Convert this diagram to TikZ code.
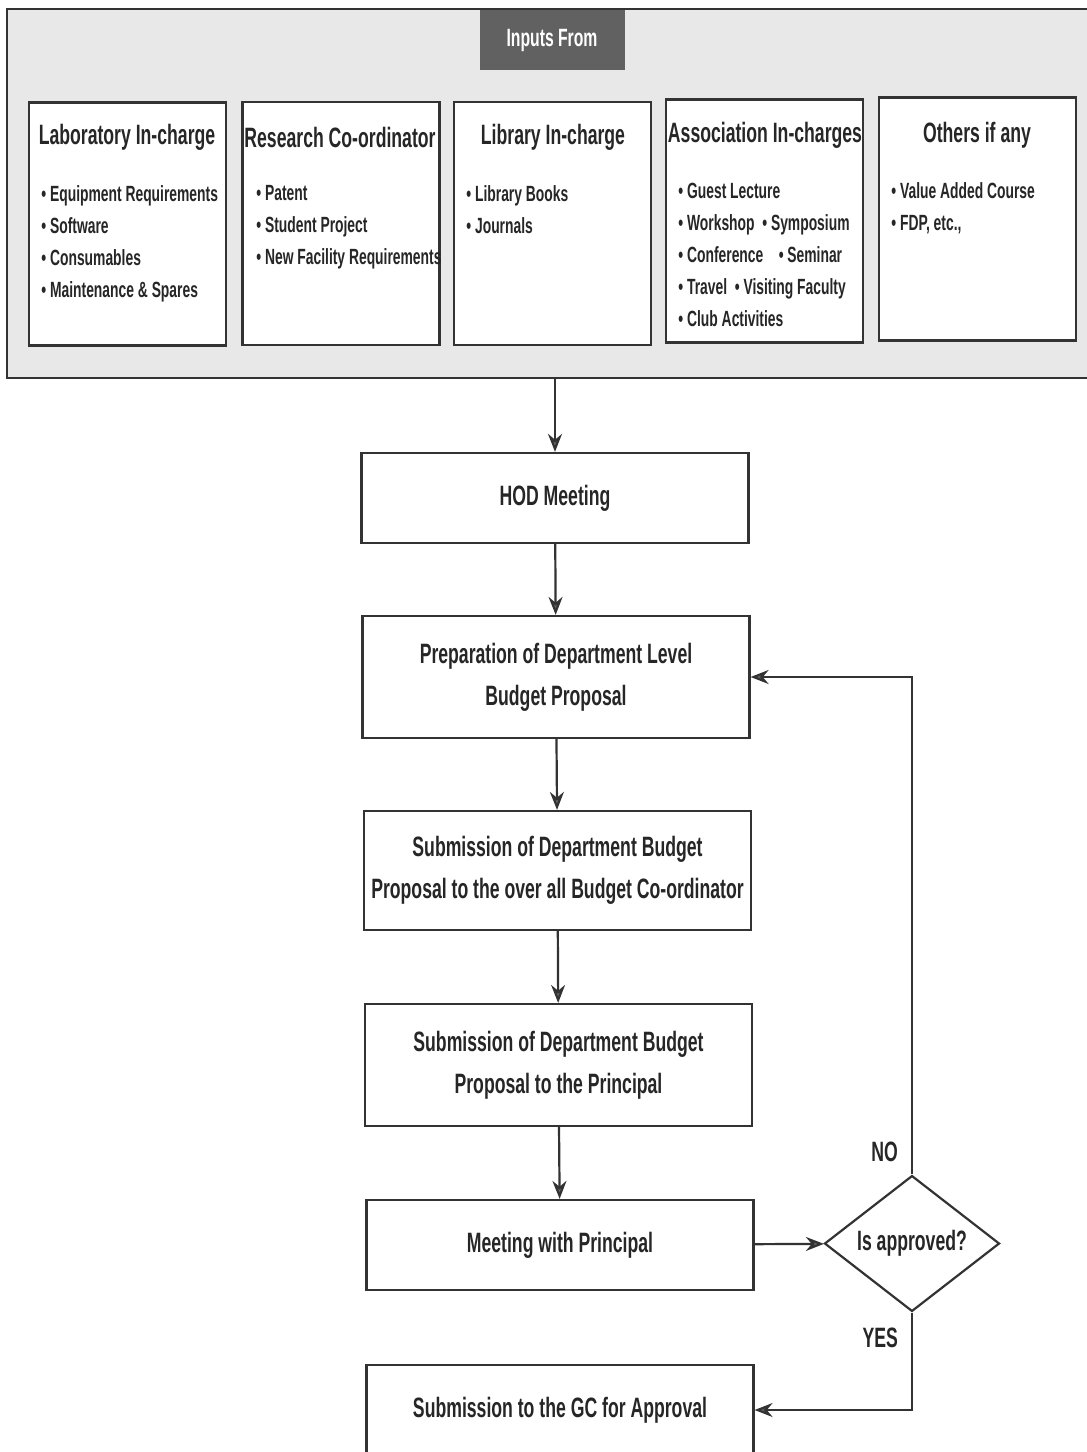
\documentclass[tikz,border=0pt]{standalone}
\usepackage{fontspec}
\newfontfamily\narrowsans{Liberation Sans}[FakeStretch=0.63]
\usetikzlibrary{arrows.meta,shapes.geometric}

\begin{document}
\begin{tikzpicture}[x=0.5pt,y=-0.5pt,font=\narrowsans\bfseries]
\tikzset{
  rule/.style={draw=black!80,line width=1.1pt},
  arr/.style={rule,-{Stealth[length=9pt,width=7pt,fill=black!60]}},
  source/.style={rule,fill=white,minimum width=98.5pt,minimum height=121.5pt,inner sep=0pt},
  srctitle/.style={font=\narrowsans\bfseries\fontsize{14}{16}\selectfont,text=black!85},
  srcitems/.style={anchor=north west,align=left,inner sep=0pt,
    font=\narrowsans\bfseries\fontsize{11}{16}\selectfont,text=black!85},
  stage/.style={rule,fill=white,minimum width=193.5pt,align=center,inner sep=0pt,
    font=\narrowsans\bfseries\fontsize{14}{21}\selectfont,text=black!85},
  check/.style={rule,diamond,fill=white,minimum width=87.5pt,minimum height=66.5pt,
    inner sep=0pt,font=\narrowsans\bfseries\fontsize{14}{16}\selectfont,text=black!85},
  answer/.style={font=\narrowsans\bfseries\fontsize{14}{16}\selectfont,text=black!85}
}
\clip (0,0) rectangle (1087,1452);

\fill[black!9] (7,9) rectangle (1095,378);
\draw[rule] (1095,9) -- (7,9) -- (7,378) -- (1095,378);
\node[fill=black!62,minimum width=72.5pt,minimum height=30pt,text=white,
  font=\narrowsans\bfseries\fontsize{12.5}{14}\selectfont] (inputs) at (552,40) {Inputs From};
\coordinate (framefoot) at (555,378);

\node[source] (lab) at (127.5,224) {};
\node[srctitle] (labtitle) at (127,137) {Laboratory In-charge};
\node[srcitems] (labitems) at (41,185)
  {• Equipment Requirements\\• Software\\• Consumables\\• Maintenance \& Spares};

\node[source] (research) at (341,223.5) {};
\node[srctitle] (researchtitle) at (340,137) {Research Co-ordinator};
\node[srcitems] (researchitems) at (256,185)
  {• Patent\\• Student Project\\• New Facility Requirements};

\node[source] (library) at (552.5,223.5) {};
\node[srctitle] (librarytitle) at (553,137) {Library In-charge};
\node[srcitems] (libraryitems) at (466,185)
  {• Library Books\\• Journals};

\node[source] (assoc) at (764.5,221) {};
\node[srctitle] (assoctitle) at (765,135) {Association In-charges};
\node[srcitems] (associtems) at (678,183)
  {• Guest Lecture\\• Workshop~~• Symposium\\• Conference~~~~• Seminar\\• Travel~~• Visiting Faculty\\• Club Activities};

\node[source] (others) at (977.5,219) {};
\node[srctitle] (otherstitle) at (977,135) {Others if any};
\node[srcitems] (othersitems) at (891,182)
  {• Value Added Course\\• FDP, etc.,};

\node[stage,minimum height=45pt] (hod) at (555,498) {HOD Meeting};
\node[stage,minimum height=61pt] (prep) at (556,677)
  {Preparation of Department Level\\Budget Proposal};
\node[stage,minimum height=59.5pt] (coord) at (557.5,870.5)
  {Submission of Department Budget\\Proposal to the over all Budget Co-ordinator};
\node[stage,minimum height=61pt] (principal) at (558.5,1065)
  {Submission of Department Budget\\Proposal to the Principal};
\node[stage,minimum height=45pt] (meeting) at (560,1245) {Meeting with Principal};
\node[stage,minimum height=45pt] (gc) at (560,1410) {Submission to the GC for Approval};
\node[check] (approved) at (912,1243.5) {Is approved?};

\draw[arr] (framefoot) -- (hod);
\draw[arr] (hod) -- (prep);
\draw[arr] (prep) -- (coord);
\draw[arr] (coord) -- (principal);
\draw[arr] (principal) -- (meeting);
\draw[arr] (meeting) -- (approved);
\draw[arr] (approved.north) |- (prep.east);
\draw[arr] (approved.south) |- (gc.east);
\node[answer,anchor=east] (no) at (905,1152) {NO};
\node[answer,anchor=east] (yes) at (905,1338) {YES};
\end{tikzpicture}
\end{document}
